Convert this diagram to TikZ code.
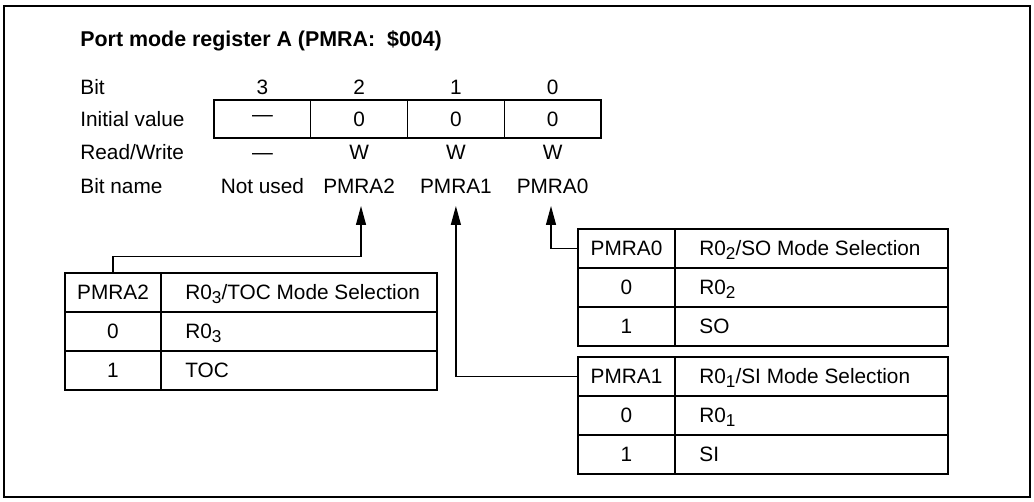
\documentclass[tikz,border=0pt]{standalone}
\usepackage{fontspec}
\setmainfont{Liberation Sans}
\usetikzlibrary{arrows.meta}
\newcommand\sbs[1]{\raisebox{-0.4ex}{\fontsize{8.6}{9}\selectfont #1}}
\tikzset{
  ln/.style={line width=0.65pt},
  txt/.style={inner sep=0pt, font=\fontsize{10.4}{12}\selectfont, anchor=base},
  lbl/.style={txt, anchor=base west},
  cell/.style={draw, ln, inner sep=0pt, minimum height=19.5pt},
  regcell/.style={draw, ln, inner sep=0pt, minimum width=48.375pt, minimum height=19pt, font=\fontsize{10.4}{12}\selectfont},
  bitA/.style={cell, minimum width=48pt},
  descA/.style={cell, minimum width=138pt},
  bitB/.style={cell, minimum width=48.5pt},
  descB/.style={cell, minimum width=136.5pt},
  arr/.style={ln, -{Triangle[length=9.5pt,width=5pt]}},
}
\begin{document}
\begin{tikzpicture}[x=0.5pt,y=-0.5pt]
\useasboundingbox (0,0) rectangle (1034,502);
\draw[line width=0.9pt] (4,6) rectangle (1030,497);

% title
\node[lbl, font=\bfseries\fontsize{10.7}{12}\selectfont] (title) at (80,47) {Port mode register A (PMRA:\ \ \$004)};

% row labels
\node[lbl] (lbit) at (80,95) {Bit};
\node[lbl] (linit) at (80,127) {Initial value};
\node[lbl] (lrw) at (80,160) {Read/Write};
\node[lbl] (lname) at (80,194) {Bit name};

% bit numbers
\node[txt] (b3) at (262.4,95) {3};
\node[txt] (b2) at (359.1,95) {2};
\node[txt] (b1) at (455.9,95) {1};
\node[txt] (b0) at (552.6,95) {0};

% register
\node[regcell] (r3) at (262.4,119) {—};
\node[regcell] (r2) at (359.1,119) {0};
\node[regcell] (r1) at (455.9,119) {0};
\node[regcell] (r0) at (552.6,119) {0};

% read/write
\node[txt] (w3) at (262.4,160) {—};
\node[txt] (w2) at (359.1,160) {W};
\node[txt] (w1) at (455.9,160) {W};
\node[txt] (w0) at (552.6,160) {W};

% bit names
\node[txt] (n3) at (262.4,194) {Not used};
\node[txt] (n2) at (359.1,194) {PMRA2};
\node[txt] (n1) at (455.9,194) {PMRA1};
\node[txt] (n0) at (552.6,194) {PMRA0};

% Table A (PMRA2)
\node[bitA] (tAh0) at (113,292.5) {};
\node[descA] (tAh1) at (299,292.5) {};
\node[bitA] (tAa0) at (113,331.5) {};
\node[descA] (tAa1) at (299,331.5) {};
\node[bitA] (tAb0) at (113,370.5) {};
\node[descA] (tAb1) at (299,370.5) {};
\node[txt] (xAh0) at (113,299.5) {PMRA2};
\node[lbl] (xAh1) at (185,299.5) {R0\sbs{3}/TOC Mode Selection};
\node[txt] (xAa0) at (113,338.5) {0};
\node[lbl] (xAa1) at (185,338.5) {R0\sbs{3}};
\node[txt] (xAb0) at (113,377.5) {1};
\node[lbl] (xAb1) at (185,377.5) {TOC};

% Table B (PMRA0)
\node[bitB] (tBh0) at (626.5,248.5) {};
\node[descB] (tBh1) at (811.5,248.5) {};
\node[bitB] (tBa0) at (626.5,287.5) {};
\node[descB] (tBa1) at (811.5,287.5) {};
\node[bitB] (tBb0) at (626.5,326.5) {};
\node[descB] (tBb1) at (811.5,326.5) {};
\node[txt] (xBh0) at (626.5,255.5) {PMRA0};
\node[lbl] (xBh1) at (699,255.5) {R0\sbs{2}/SO Mode Selection};
\node[txt] (xBa0) at (626.5,294.5) {0};
\node[lbl] (xBa1) at (699,294.5) {R0\sbs{2}};
\node[txt] (xBb0) at (626.5,333.5) {1};
\node[lbl] (xBb1) at (699,333.5) {SO};

% Table C (PMRA1)
\node[bitB] (tCh0) at (626.5,376.5) {};
\node[descB] (tCh1) at (811.5,376.5) {};
\node[bitB] (tCa0) at (626.5,415.5) {};
\node[descB] (tCa1) at (811.5,415.5) {};
\node[bitB] (tCb0) at (626.5,454.5) {};
\node[descB] (tCb1) at (811.5,454.5) {};
\node[txt] (xCh0) at (626.5,383.5) {PMRA1};
\node[lbl] (xCh1) at (699,383.5) {R0\sbs{1}/SI Mode Selection};
\node[txt] (xCa0) at (626.5,422.5) {0};
\node[lbl] (xCa1) at (699,422.5) {R0\sbs{1}};
\node[txt] (xCb0) at (626.5,461.5) {1};
\node[lbl] (xCb1) at (699,461.5) {SI};

% arrow tip points
\coordinate (a2) at (361,206);
\coordinate (a1) at (455.9,206);
\coordinate (a0) at (551,206);

% connectors
\draw[arr] (tAh0.north) -- ++(0,-16) -| (a2);
\draw[arr] (tCh0.west) -| (a1);
\draw[arr] (tBh0.west) -| (a0);
\end{tikzpicture}
\end{document}
